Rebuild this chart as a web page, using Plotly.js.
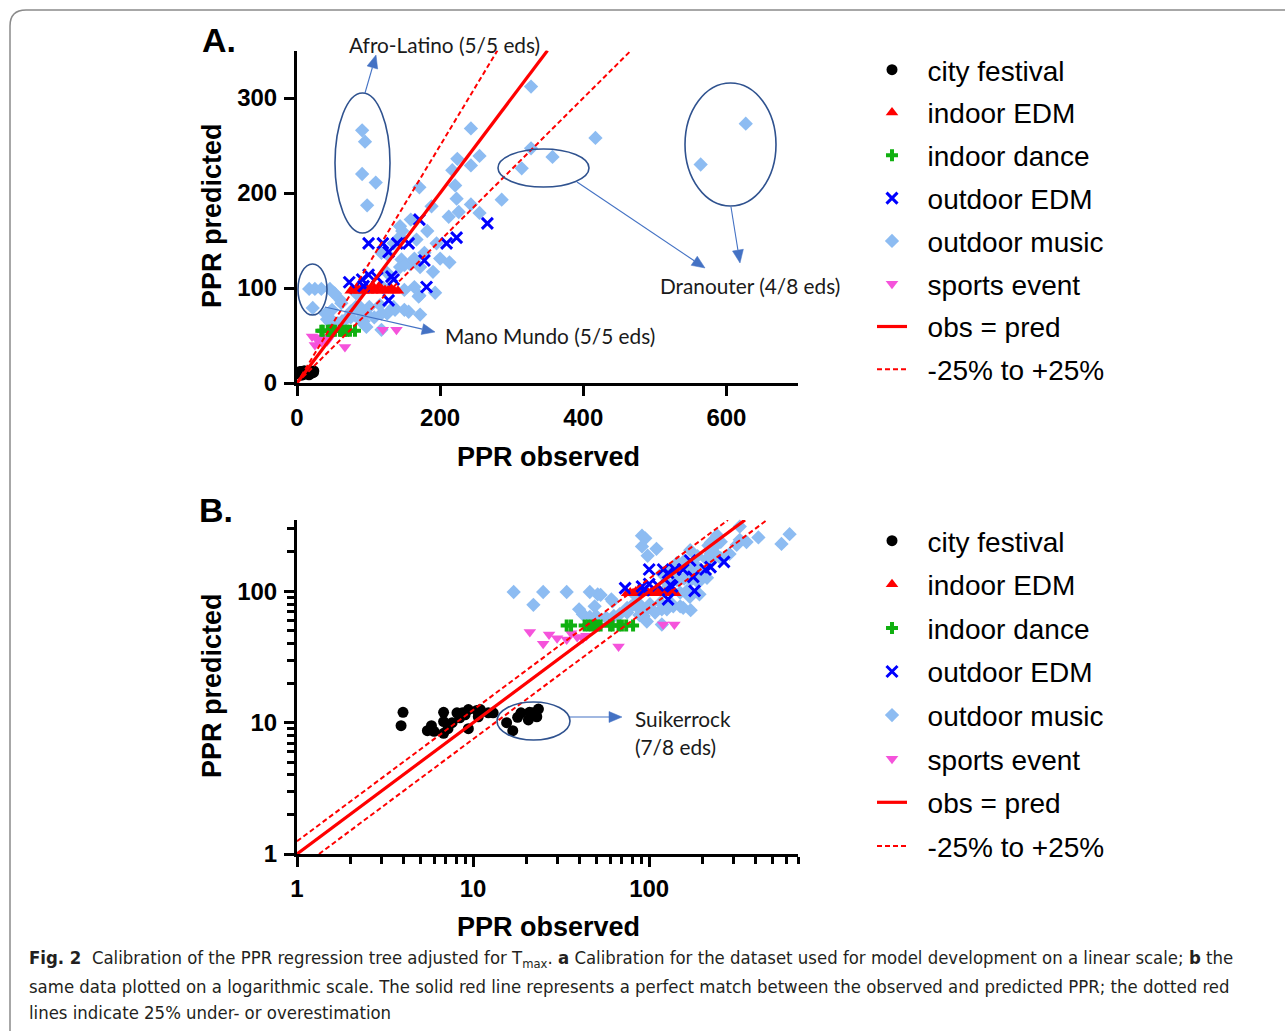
<!DOCTYPE html>
<html><head><meta charset="utf-8">
<script src="https://cdn.plot.ly/plotly-3.0.1.min.js"></script>
<style>html,body{margin:0;padding:0;background:#fff;} #chart{width:1285px;height:1031px;}</style>
</head><body><div id="chart"></div>
<script>
// ---------------- DATA ----------------
const categories = ['city festival', 'indoor EDM', 'indoor dance', 'outdoor EDM', 'outdoor music', 'sports event'];

const cityFestivalObs  = [4.0, 3.9, 5.5, 5.8, 6.0, 6.8, 6.8, 6.8, 7.2, 7.6, 8.1, 8.4, 8.7, 9.0, 9.4, 9.4, 10.5, 10.7, 11.0, 12.2, 13.0, 15.5, 16.8, 17.9, 18.7, 20.6, 20.9, 21.8, 23.0, 23.5];
const cityFestivalPred = [12.0, 9.5, 8.7, 9.5, 8.6, 10.2, 12.0, 8.3, 9.0, 10.0, 11.9, 10.9, 11.9, 11.5, 12.6, 9.0, 12.4, 11.1, 12.6, 11.9, 11.9, 10.0, 8.7, 11.0, 11.9, 10.5, 12.0, 11.9, 11.1, 12.7];

const indoorEdmObs  = [75, 78, 81, 84, 87, 90, 93, 96, 99, 102, 105, 108, 112, 115, 119, 123, 127, 131, 136, 141];
const indoorEdmPred = [97, 98, 97, 100, 97, 99, 97, 101, 97, 98, 97, 100, 97, 102, 97, 98, 97, 100, 97, 97];

const indoorDanceObs  = [34, 36, 43, 45, 47, 49, 51, 53, 60, 62, 67, 70, 74, 81];
const indoorDancePred = [55, 55, 55, 55, 55, 55, 55, 55, 55, 55, 55, 55, 55, 55];

const outdoorEdmObs  = [73, 91, 93, 100, 100, 112, 120, 128, 128, 132, 135, 140, 156, 171, 178, 181, 209, 223, 266];
const outdoorEdmPred = [106, 109, 102, 147, 114, 111, 147, 138, 87, 112, 109, 147, 147, 172, 129, 101, 147, 153, 168];

const outdoorMusicObs = [
  91, 95, 91, 110, 98,
  564, 627, 314, 327, 357,
  417, 327, 243, 224, 255, 243, 217, 221, 171, 223, 188, 226, 243, 255, 286,
  144, 147, 159, 167, 135, 144, 146, 158, 178, 172, 118, 144, 126, 182, 195, 212, 200, 213, 190, 164, 150, 127, 164, 171, 150, 121,
  170, 193, 135, 156, 172, 126, 118, 108, 97, 91, 82, 75, 75, 68, 63, 61, 57, 50, 49, 42, 40, 51, 46, 85, 101, 93, 118, 150,
  46, 88, 97, 53, 62, 83, 79, 88, 116, 137,
  17, 25, 34, 22
];
const outdoorMusicPred = [
  266, 254, 220, 211, 187,
  230, 273, 226, 247, 238,
  258, 312, 268, 236, 239, 229, 224, 208, 206, 194, 186, 180, 188, 179, 193,
  165, 160, 172, 151, 147, 154, 130, 125, 137, 122, 137, 122, 116, 160, 147, 175, 131, 127, 117, 131, 124, 135, 101, 92, 98, 100,
  91, 95, 80, 75, 72, 73, 73, 69, 73, 65, 80, 75, 69, 67, 65, 87, 63, 65, 77, 67, 73, 95, 99, 77, 80, 65, 56, 77,
  64, 66, 59, 94, 84, 94, 77, 80, 82, 77,
  99, 99, 99, 79
];

const sportsEventObs  = [21, 25, 27, 30, 34, 36, 39, 42, 44, 67, 120, 139];
const sportsEventPred = [49, 40, 47, 44, 43, 48, 45, 44, 46, 38, 56, 56];

const lineNames = ['obs = pred', '-25% to +25%'];
const lineRatios = [1, 1.25, 0.75];   // predicted / observed
const predMax = 350;

const xTicksLinear = [0, 200, 400, 600];
const yTicksLinear = [0, 100, 200, 300];
const logTicks = [1, 10, 100];

// ---------------- LAYOUT HELPERS ----------------
const W = 1285, H = 1031;
const px = v => v / W;
const py = v => 1 - v / H;

const seriesObs  = [cityFestivalObs, indoorEdmObs, indoorDanceObs, outdoorEdmObs, outdoorMusicObs, sportsEventObs];
const seriesPred = [cityFestivalPred, indoorEdmPred, indoorDancePred, outdoorEdmPred, outdoorMusicPred, sportsEventPred];
const styles = [
  {symbol: 'circle', color: '#000000', size: 11},
  {symbol: 'triangle-up', color: '#ff0000', size: 11},
  {symbol: 'cross', color: '#10b010', size: 10},
  {symbol: 'x-thin', color: '#0000ff', size: 11, lw: 3},
  {symbol: 'diamond', color: '#8dbcf2', size: 11},
  {symbol: 'triangle-down', color: '#f553db', size: 11}
];
// drawing order (bottom to top); legend order kept via legendrank
const drawOrder = [4, 5, 2, 1, 3, 0];
const nb = '\u00A0\u00A0';

function lineTrace(ratios, xmin, ax, ay, leg, name, dash, width, group, rank) {
  const xs = [], ys = [];
  ratios.forEach((r, i) => {
    if (i > 0) { xs.push(null); ys.push(null); }
    const x0 = xmin === 0 ? 0 : Math.max(xmin, xmin / r);
    xs.push(x0, predMax / r);
    ys.push(x0 * r, predMax);
  });
  return {type: 'scatter', mode: 'lines', x: xs, y: ys, xaxis: ax, yaxis: ay, legend: leg,
    name: nb + name, legendgroup: group, legendrank: rank, line: {color: '#ff0000', width: width, dash: dash},
    hoverinfo: 'skip'};
}

function buildTraces(ax, ay, leg, xmin, tag) {
  const t = drawOrder.map(i => ({
    type: 'scatter', mode: 'markers', x: seriesObs[i], y: seriesPred[i],
    xaxis: ax, yaxis: ay, legend: leg, name: nb + categories[i], legendgroup: tag + i, legendrank: i + 1,
    cliponaxis: false,
    marker: {symbol: styles[i].symbol, color: styles[i].color, size: styles[i].size,
      line: {color: styles[i].color, width: styles[i].lw || 0}}
  }));
  t.push(lineTrace([lineRatios[0]], xmin, ax, ay, leg, lineNames[0], 'solid', 3.2, tag + 'l1', 7));
  t.push(lineTrace([lineRatios[1], lineRatios[2]], xmin, ax, ay, leg, lineNames[1], '5px,3px', 2, tag + 'l2', 8));
  return t;
}

const traces = [].concat(buildTraces('x', 'y', 'legend', 0, 'a'), buildTraces('x2', 'y2', 'legend2', 1, 'b'));

const tickFont = {family: 'Liberation Sans, Arial, sans-serif', size: 24, color: '#000', weight: 'bold'};
const axBase = {showline: true, linecolor: '#000', linewidth: 3, ticks: 'outside', ticklen: 10, tickwidth: 3,
  tickcolor: '#000', showgrid: false, zeroline: false, tickfont: tickFont, fixedrange: true};
const minorLog = {dtick: 'D1', ticks: 'outside', ticklen: 7, tickwidth: 3, tickcolor: '#000', showgrid: false};

const calloutFont = {family: 'Lato, Open Sans, sans-serif', size: 20.8, color: '#1a1a1a'};
const titleFont = {family: 'Liberation Sans, Arial, sans-serif', size: 27, color: '#000', weight: 'bold'};
const ellipseLine = {color: '#2f528f', width: 1.6};
const arrowColor = '#4472c4';

function txt(x, y, text, font, opts) {
  return Object.assign({xref: 'paper', yref: 'paper', x: px(x), y: py(y), text: text, showarrow: false,
    font: font, xanchor: 'left', yanchor: 'middle'}, opts || {});
}
function arrowShapes(tx, ty, hx, hy) {
  const dx = hx - tx, dy = hy - ty, L = Math.hypot(dx, dy), ux = dx / L, uy = dy / L;
  const hl = 13, hw = 5.5;
  const bx = hx - ux * hl, by = hy - uy * hl;
  const p1 = [bx - uy * hw, by + ux * hw], p2 = [bx + uy * hw, by - ux * hw];
  return [
    {type: 'line', xref: 'paper', yref: 'paper', x0: px(tx), y0: py(ty), x1: px(bx), y1: py(by), line: {color: arrowColor, width: 1.1}},
    {type: 'path', xref: 'paper', yref: 'paper',
     path: `M ${px(hx)},${py(hy)} L ${px(p1[0])},${py(p1[1])} L ${px(p2[0])},${py(p2[1])} Z`,
     fillcolor: arrowColor, line: {color: arrowColor, width: 0.5}}
  ];
}
function ellipse(x0, y0, x1, y1) {
  return {type: 'circle', xref: 'paper', yref: 'paper', x0: px(x0), x1: px(x1), y0: py(y1), y1: py(y0), line: ellipseLine};
}

const capFont = {family: 'Liberation Sans Narrow, DejaVu Sans Condensed, sans-serif', size: 18.4, color: '#231f20'};
const legendFont = {family: 'Liberation Sans, Arial, sans-serif', size: 28, color: '#000'};

const layout = {
  width: W, height: H, margin: {l: 0, r: 0, t: 0, b: 0},
  paper_bgcolor: '#ffffff', plot_bgcolor: 'rgba(0,0,0,0)',
  showlegend: true,
  xaxis: Object.assign({}, axBase, {domain: [px(297), px(798)], range: [0, 700], tickvals: xTicksLinear, anchor: 'y', ticklabelstandoff: 1}),
  yaxis: Object.assign({}, axBase, {domain: [py(383), py(50.5)], range: [0, predMax], tickvals: yTicksLinear, anchor: 'x', ticklabelstandoff: 2}),
  xaxis2: Object.assign({}, axBase, {type: 'log', domain: [px(297), px(798)], range: [0, Math.log10(700)], tickvals: logTicks, ticktext: logTicks.map(String), anchor: 'y2', minor: minorLog, ticklabelstandoff: 1}),
  yaxis2: Object.assign({}, axBase, {type: 'log', domain: [py(854), py(520)], range: [0, Math.log10(predMax)], tickvals: logTicks, ticktext: logTicks.map(String), anchor: 'x2', minor: minorLog, ticklabelstandoff: 2}),
  legend: {x: px(872), y: py(45), xanchor: 'left', yanchor: 'top', bgcolor: 'rgba(0,0,0,0)', borderwidth: 0,
    font: legendFont, itemwidth: 30, tracegroupgap: 3.4, itemclick: false},
  legend2: {x: px(872), y: py(516), xanchor: 'left', yanchor: 'top', bgcolor: 'rgba(0,0,0,0)', borderwidth: 0,
    font: legendFont, itemwidth: 30, tracegroupgap: 4.2, itemclick: false},
  shapes: [
    {type: 'path', xref: 'paper', yref: 'paper',
     path: `M ${px(10)},${py(1045)} L ${px(10)},${py(26)} Q ${px(10)},${py(10)} ${px(26)},${py(10)} L ${px(1300)},${py(10)}`,
     line: {color: '#8a8a8a', width: 1.5}},
    ellipse(335, 93, 390, 233),
    ellipse(298, 264, 327, 315),
    ellipse(498, 149, 589, 187),
    ellipse(685, 83, 776, 206),
    ellipse(497, 702, 570, 740)
  ].concat(
    arrowShapes(365, 93, 376, 55),
    arrowShapes(325, 307, 435, 332),
    arrowShapes(577, 182, 705, 268),
    arrowShapes(731, 207, 740, 263),
    arrowShapes(570, 717, 622, 717)
  ),
  annotations: [
    txt(200, 40, 'A.', {family: 'Liberation Sans, Arial, sans-serif', size: 34, color: '#000', weight: 'bold'}),
    txt(197, 510, 'B.', {family: 'Liberation Sans, Arial, sans-serif', size: 34, color: '#000', weight: 'bold'}),
    txt(548, 457, 'PPR observed', titleFont, {xanchor: 'center'}),
    txt(548, 927, 'PPR observed', titleFont, {xanchor: 'center'}),
    txt(212, 216, 'PPR predicted', titleFont, {xanchor: 'center', textangle: -90}),
    txt(212, 686, 'PPR predicted', titleFont, {xanchor: 'center', textangle: -90}),
    txt(444, 45, 'Afro-Latino (5/5 eds)', calloutFont, {xanchor: 'center'}),
    txt(443, 335, 'Mano Mundo (5/5 eds)', calloutFont),
    txt(658, 285, 'Dranouter (4/8 eds)', calloutFont),
    txt(633, 718, 'Suikerrock', calloutFont),
    txt(633, 746, '(7/8 eds)', calloutFont),
    txt(27, 959, '<b>Fig. 2</b>  Calibration of the PPR regression tree adjusted for T<sub>max</sub>. <b>a</b> Calibration for the dataset used for model development on a linear scale; <b>b</b> the', capFont),
    txt(27, 986, 'same data plotted on a logarithmic scale. The solid red line represents a perfect match between the observed and predicted PPR; the dotted red', capFont),
    txt(27, 1012, 'lines indicate 25% under- or overestimation', capFont)
  ]
};

Plotly.newPlot('chart', traces, layout, {displayModeBar: false, responsive: false, staticPlot: true});
</script>
</body></html>
